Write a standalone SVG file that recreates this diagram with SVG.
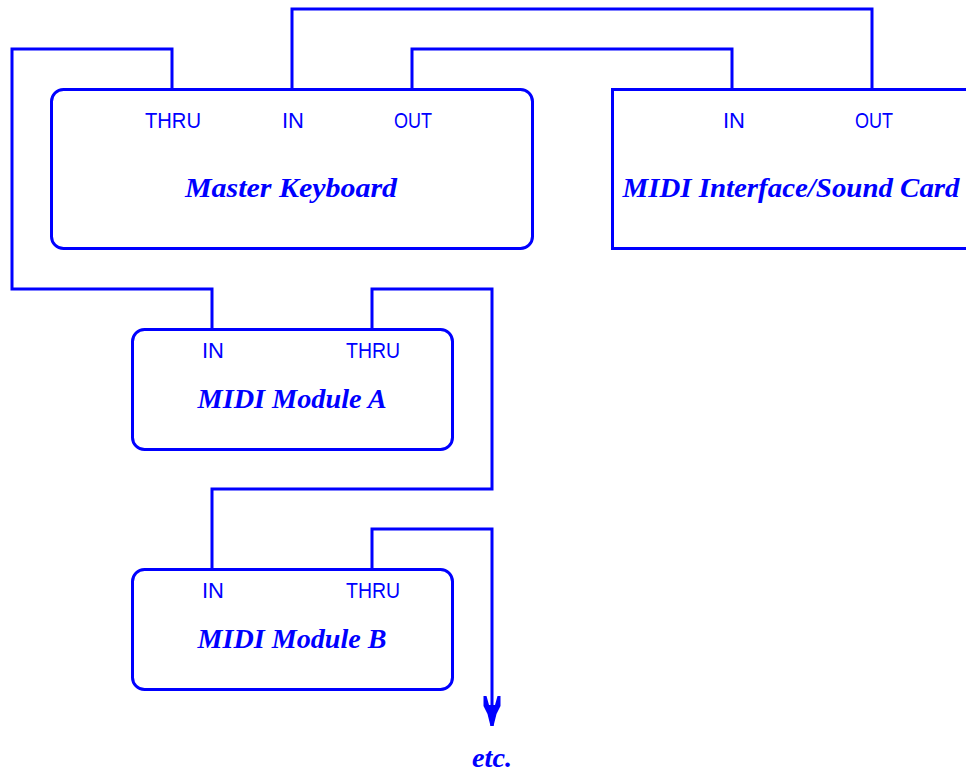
<svg xmlns="http://www.w3.org/2000/svg" width="966" height="773" viewBox="0 0 966 773">
<style>
.box{fill:none;stroke:#0000ff;stroke-width:3}
.wire{fill:none;stroke:#0000ff;stroke-width:3;stroke-linejoin:miter}
.port{font-family:"Liberation Sans",Arial,sans-serif;font-size:22px;fill:#0000ff;text-anchor:middle}
.title{font-family:"Liberation Serif","Times New Roman",serif;font-size:28px;font-weight:bold;font-style:italic;fill:#0000ff;text-anchor:middle}
</style>
<defs>
<marker id="arr" markerUnits="userSpaceOnUse" viewBox="0 -9 32 18" markerWidth="32" markerHeight="18" refX="30" refY="0" orient="auto">
<path d="M0,-8.5 L0,-5.5 L9,-3 L9,3 L0,5.5 L0,8.5 L10,8.5 L18,4.5 L30,1.5 L30,-1.5 L18,-4.5 L10,-8.5 Z" fill="#0000ff"/>
</marker>
</defs>
<rect width="966" height="773" fill="#ffffff"/>
<g id="connectors">
<path class="wire" d="M172,89 V49 H12 V289 H212 V329"/>
<path class="wire" d="M292,89 V9 H872 V89"/>
<path class="wire" d="M412,89 V49 H732 V89"/>
<path class="wire" d="M372,329 V289 H492 V489 H212 V569"/>
<path class="wire" d="M372,569 V529 H492 V726" marker-end="url(#arr)"/>
</g>
<g id="master-keyboard">
<rect class="box" x="51.5" y="89.5" width="481" height="159" rx="12"/>
<text class="port" x="173" y="128" textLength="56" lengthAdjust="spacingAndGlyphs">THRU</text>
<text class="port" x="293" y="128">IN</text>
<text class="port" x="413" y="128" textLength="38" lengthAdjust="spacingAndGlyphs">OUT</text>
<text class="title" x="291" y="197" textLength="212" lengthAdjust="spacingAndGlyphs">Master Keyboard</text>
</g>
<g id="midi-interface">
<rect class="box" x="612.5" y="89.5" width="370" height="159"/>
<text class="port" x="734" y="128">IN</text>
<text class="port" x="874" y="128" textLength="38" lengthAdjust="spacingAndGlyphs">OUT</text>
<text class="title" x="791" y="197" textLength="337" lengthAdjust="spacingAndGlyphs">MIDI Interface/Sound Card</text>
</g>
<g id="module-a">
<rect class="box" x="132.5" y="329.5" width="320" height="120" rx="12"/>
<text class="port" x="213" y="358">IN</text>
<text class="port" x="373" y="358" textLength="54" lengthAdjust="spacingAndGlyphs">THRU</text>
<text class="title" x="292" y="408" textLength="189" lengthAdjust="spacingAndGlyphs">MIDI Module A</text>
</g>
<g id="module-b">
<rect class="box" x="132.5" y="569.5" width="320" height="120" rx="12"/>
<text class="port" x="213" y="598">IN</text>
<text class="port" x="373" y="598" textLength="54" lengthAdjust="spacingAndGlyphs">THRU</text>
<text class="title" x="292" y="648" textLength="189" lengthAdjust="spacingAndGlyphs">MIDI Module B</text>
</g>
<g id="etc">
<text class="title" x="492" y="767" font-size="26" textLength="40" lengthAdjust="spacingAndGlyphs">etc.</text>
</g>
</svg>
